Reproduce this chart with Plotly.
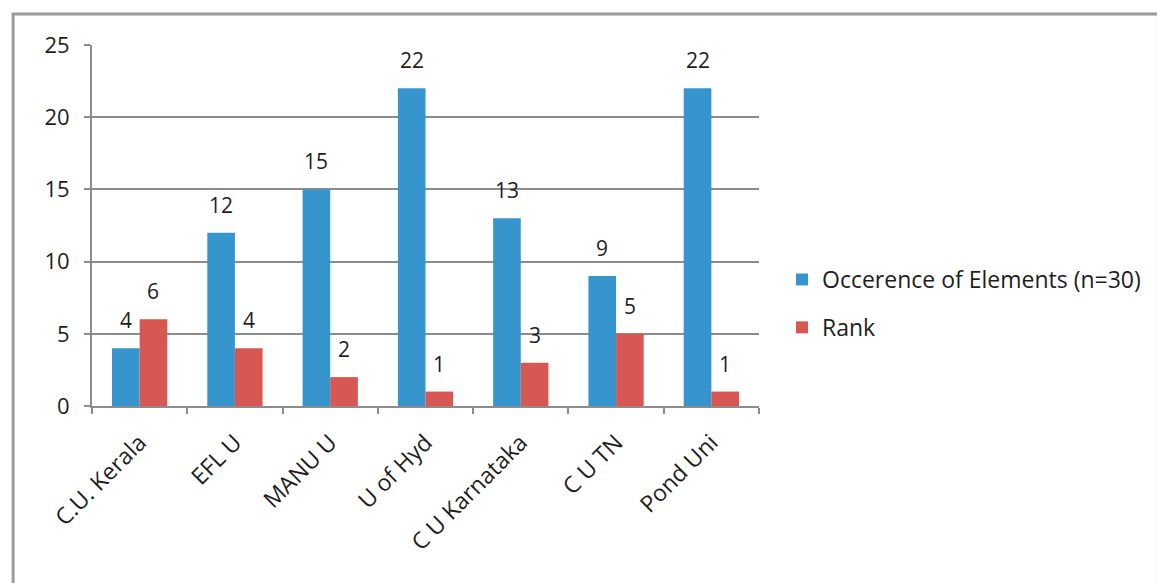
import plotly.graph_objects as go

categories = ["C.U. Kerala", "EFL U", "MANU U", "U of Hyd", "C U Karnataka", "C U TN", "Pond Uni"]
occurrence = [4, 12, 15, 22, 13, 9, 22]
rank = [6, 4, 2, 1, 3, 5, 1]
y_ticks = [0, 5, 10, 15, 20, 25]

BLUE = "#3795CD"
RED = "#D75752"
GRID = "#8C8C8C"
TXT = "#1E1E1E"
FONT = "'Open Sans', sans-serif"

L, R, T, B = 92, 397, 45, 177
W, H = 1157, 583
pw, ph = W - L - R, H - T - B
band = pw / len(categories)
barw = 27.5

fig = go.Figure()
fig.add_trace(go.Bar(
    x=categories, y=occurrence, name="Occerence of Elements (n=30)",
    marker=dict(color=BLUE, line=dict(width=0)),
    legendgroup="a",
))
fig.add_trace(go.Bar(
    x=categories, y=rank, name="Rank",
    marker=dict(color=RED, line=dict(width=0)),
    legendgroup="b",
))

# data labels above bars
for series, shift in ((occurrence, -barw / 2), (rank, barw / 2)):
    for c, v in zip(categories, series):
        fig.add_annotation(
            x=c, y=v, xref="x", yref="y", text=str(v), showarrow=False,
            xshift=shift, yshift=28, yanchor="middle", xanchor="center",
            font=dict(size=21, color=TXT, family=FONT),
        )

fig.update_layout(
    width=W, height=H,
    margin=dict(l=L, r=R, t=T, b=B, pad=0),
    paper_bgcolor="white", plot_bgcolor="white",
    barmode="group", bargap=0.42, bargroupgap=0,
    font=dict(family=FONT, size=20, color=TXT),
    legend=dict(
        x=(782 - L) / pw, y=(406 - 258) / ph, xanchor="left", yanchor="top",
        font=dict(size=23, color=TXT, family=FONT),
        tracegroupgap=15, bgcolor="rgba(0,0,0,0)",
    ),
    showlegend=True,
)
fig.update_xaxes(
    type="category", tickangle=-45,
    showline=True, linecolor=GRID, linewidth=2,
    ticks="outside", tickson="boundaries", ticklen=6, tickcolor=GRID, tickwidth=2,
    tickfont=dict(size=23, color=TXT, family=FONT),
    ticklabelstandoff=12,
    showgrid=False, fixedrange=True,
)
fig.update_yaxes(
    range=[0, 25], tickvals=y_ticks,
    showline=True, linecolor=GRID, linewidth=2,
    ticks="outside", ticklen=6, tickcolor=GRID, tickwidth=2,
    showgrid=True, gridcolor=GRID, gridwidth=2,
    zeroline=False, ticklabelstandoff=10,
    tickfont=dict(size=22, color=TXT, family=FONT),
)

# outer chart border
fig.add_shape(
    type="rect", xref="paper", yref="paper",
    x0=(13 - L) / pw, x1=(1160 - L) / pw,
    y0=(H - B - 600) / ph, y1=(H - B - 14) / ph,
    line=dict(color="#9A9A9A", width=3), fillcolor="rgba(0,0,0,0)", layer="below",
)

fig.write_html("out.html")
